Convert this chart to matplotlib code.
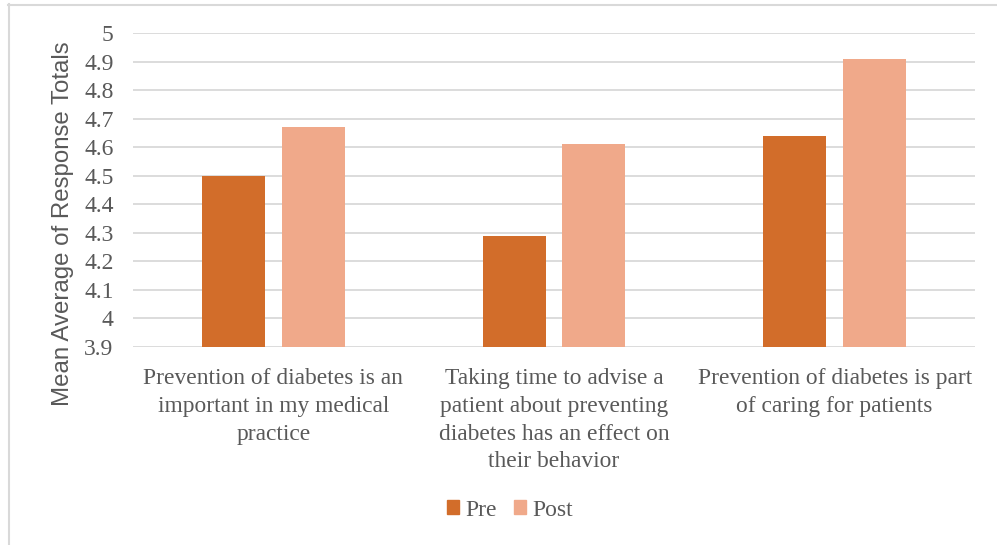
import matplotlib.pyplot as plt
import numpy as np
from matplotlib.patches import Patch
from matplotlib.lines import Line2D

# Survey statements and mean responses
categories = ['Prevention of diabetes is an\nimportant in my medical\npractice',
              'Taking time to advise a\npatient about preventing\ndiabetes has an effect on\ntheir behavior',
              'Prevention of diabetes is part\nof caring for patients']
pre = [4.50, 4.29, 4.64]
post = [4.67, 4.61, 4.91]
yticks = [3.9, 4, 4.1, 4.2, 4.3, 4.4, 4.5, 4.6, 4.7, 4.8, 4.9, 5]
ytick_labels = ['3.9', '4', '4.1', '4.2', '4.3', '4.4', '4.5', '4.6', '4.7', '4.8', '4.9', '5']

pre_color = '#D26D2A'
post_color = '#F0A98A'
text_color = '#595959'
grid_color = '#D9D9D9'

fig = plt.figure(figsize=(9.97, 5.45), dpi=100)
ax = fig.add_axes([133/997, 1 - 347/545, (975 - 133)/997, (347 - 33)/545])

x = np.arange(len(categories))
w = 0.2245
off = 0.1425
ax.bar(x - off, np.array(pre) - 3.9, w, bottom=3.9, color=pre_color, zorder=3)
ax.bar(x + off, np.array(post) - 3.9, w, bottom=3.9, color=post_color, zorder=3)

ax.set_xlim(-0.5, 2.5)
ax.set_ylim(3.9, 5.0)
ax.set_yticks(yticks)
ax.set_yticklabels(ytick_labels, family='Liberation Serif', fontsize=17, color=text_color)
ax.set_xticks(x)
ax.set_xticklabels(categories, family='Liberation Serif', fontsize=16.9, color=text_color,
                   linespacing=1.43, va='top')
ax.tick_params(axis='both', length=0)
ax.tick_params(axis='x', pad=15)
ax.tick_params(axis='y', pad=14)
ax.grid(axis='y', color=grid_color, linewidth=1.3, zorder=0)
for s in ax.spines.values():
    s.set_visible(False)

ax.set_ylabel('Mean Average of Response Totals', family='Liberation Sans', fontsize=17.3,
              color=text_color)
ax.yaxis.set_label_coords(-(133 - 74)/842, (347 - 224)/314)

handles = [Patch(color=pre_color, label='Pre'), Patch(color=post_color, label='Post')]
fig.legend(handles=handles, loc='center', bbox_to_anchor=(510/997, 1 - 510/545), ncol=2,
           frameon=False, prop={'family': 'Liberation Serif', 'size': 17},
           labelcolor=text_color, handlelength=0.5, handleheight=0.5,
           handletextpad=0.3, columnspacing=0.7)

# outer chart frame (top and left edges)
fig.add_artist(Line2D([8.5/997, 8.5/997], [0, 1 - 4/545], color=grid_color, linewidth=1.5,
                      transform=fig.transFigure))
fig.add_artist(Line2D([8/997, 1], [1 - 4.5/545, 1 - 4.5/545], color=grid_color, linewidth=1.5,
                      transform=fig.transFigure))

fig.savefig('out.png', dpi=100)
